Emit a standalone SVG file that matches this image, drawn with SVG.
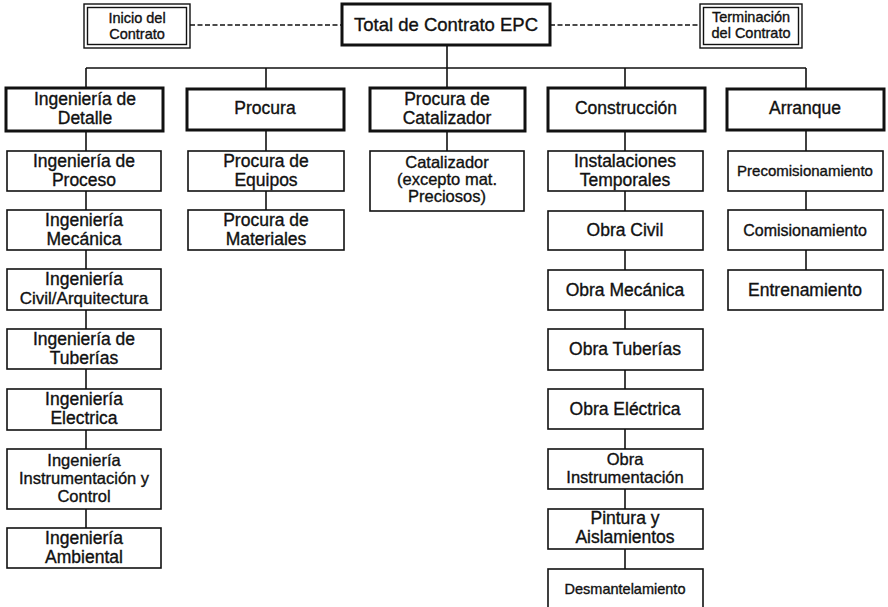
<svg xmlns="http://www.w3.org/2000/svg" width="888" height="607" viewBox="0 0 888 607">
<style>
.b1{fill:#fff;stroke:#111;stroke-width:3}
.b2{fill:#fff;stroke:#111;stroke-width:1.6}
.bd{fill:none;stroke:#111;stroke-width:1.4}
.c{fill:none;stroke:#111;stroke-width:1.6}
.d{fill:none;stroke:#111;stroke-width:1.4;stroke-dasharray:5 2.5}
text{font-family:"Liberation Sans",Arial,sans-serif;font-size:17.5px;fill:#111;stroke:#111;stroke-width:0.35;text-anchor:middle}
.s{font-size:14.5px}
.m{font-size:16.5px}
</style>
<rect width="888" height="607" fill="#fff"/>
<g id="connectors">
<path class="d" d="M190,25 H342 M550,25 H700"/>
<path class="c" d="M447,45 V68 M86,68 H806 M86,68 V88 M266,68 V89 M447,68 V88 M625,68 V88 M806,68 V89"/>
<path class="c" d="M86,131 V528"/>
<path class="c" d="M266,130 V210"/>
<path class="c" d="M447,131 V151"/>
<path class="c" d="M625,131 V569"/>
<path class="c" d="M806,130 V270"/>
</g>
<g id="inicio">
<rect class="bd" x="84" y="4" width="106" height="44"/>
<rect class="bd" x="87.5" y="7.5" width="99" height="37"/>
<text class="s" x="137" y="23">Inicio del</text>
<text class="s" x="137" y="39">Contrato</text>
</g>
<g id="total">
<rect class="b1" x="342" y="4" width="208" height="41"/>
<text x="446" y="31" style="font-size:18.5px">Total de Contrato EPC</text>
</g>
<g id="terminacion">
<rect class="bd" x="700" y="4" width="102" height="44"/>
<rect class="bd" x="703.5" y="7.5" width="95" height="37"/>
<text class="s" x="751" y="22">Terminación</text>
<text class="s" x="751" y="38">del Contrato</text>
</g>
<g id="ing-detalle">
<rect class="b1" x="6" y="88" width="157" height="43"/>
<text x="85" y="105">Ingeniería de</text>
<text x="85" y="124">Detalle</text>
</g>
<g id="procura">
<rect class="b1" x="187" y="89" width="157" height="41"/>
<text x="265" y="114">Procura</text>
</g>
<g id="procura-catalizador">
<rect class="b1" x="370" y="88" width="155" height="43"/>
<text x="447" y="105">Procura de</text>
<text x="447" y="124">Catalizador</text>
</g>
<g id="construccion">
<rect class="b1" x="548" y="88" width="157" height="43"/>
<text x="626" y="114">Construcción</text>
</g>
<g id="arranque">
<rect class="b1" x="727" y="89" width="157" height="41"/>
<text x="805" y="114">Arranque</text>
</g>
<g id="ing-proceso">
<rect class="b2" x="7" y="151" width="154" height="40"/>
<text x="84" y="167">Ingeniería de</text>
<text x="84" y="186">Proceso</text>
</g>
<g id="ing-mecanica">
<rect class="b2" x="7" y="210" width="154" height="40"/>
<text x="84" y="226">Ingeniería</text>
<text x="84" y="245">Mecánica</text>
</g>
<g id="ing-civil">
<rect class="b2" x="7" y="269" width="154" height="41"/>
<text x="84" y="285">Ingeniería</text>
<text x="84" y="304" style="font-size:17px">Civil/Arquitectura</text>
</g>
<g id="ing-tuberias">
<rect class="b2" x="7" y="329" width="154" height="40"/>
<text x="84" y="345">Ingeniería de</text>
<text x="84" y="364">Tuberías</text>
</g>
<g id="ing-electrica">
<rect class="b2" x="7" y="389" width="154" height="41"/>
<text x="84" y="405">Ingeniería</text>
<text x="84" y="424">Electrica</text>
</g>
<g id="ing-instrumentacion">
<rect class="b2" x="7" y="449" width="154" height="60"/>
<text class="m" x="84" y="466">Ingeniería</text>
<text class="m" x="84" y="484">Instrumentación y</text>
<text class="m" x="84" y="502">Control</text>
</g>
<g id="ing-ambiental">
<rect class="b2" x="7" y="528" width="154" height="40"/>
<text x="84" y="544">Ingeniería</text>
<text x="84" y="563">Ambiental</text>
</g>
<g id="procura-equipos">
<rect class="b2" x="188" y="151" width="156" height="40"/>
<text x="266" y="167">Procura de</text>
<text x="266" y="186">Equipos</text>
</g>
<g id="procura-materiales">
<rect class="b2" x="188" y="210" width="156" height="40"/>
<text x="266" y="226">Procura de</text>
<text x="266" y="245">Materiales</text>
</g>
<g id="catalizador">
<rect class="b2" x="370" y="151" width="154" height="60"/>
<text class="m" x="447" y="168">Catalizador</text>
<text class="m" x="447" y="185">(excepto mat.</text>
<text class="m" x="447" y="202">Preciosos)</text>
</g>
<g id="instalaciones">
<rect class="b2" x="548" y="151" width="155" height="40"/>
<text x="625" y="167">Instalaciones</text>
<text x="625" y="186">Temporales</text>
</g>
<g id="obra-civil">
<rect class="b2" x="548" y="211" width="155" height="39"/>
<text x="625" y="236">Obra Civil</text>
</g>
<g id="obra-mecanica">
<rect class="b2" x="548" y="270" width="155" height="40"/>
<text x="625" y="296">Obra Mecánica</text>
</g>
<g id="obra-tuberias">
<rect class="b2" x="548" y="329" width="155" height="41"/>
<text x="625" y="355">Obra Tuberías</text>
</g>
<g id="obra-electrica">
<rect class="b2" x="548" y="389" width="155" height="40"/>
<text x="625" y="415">Obra Eléctrica</text>
</g>
<g id="obra-instrumentacion">
<rect class="b2" x="548" y="449" width="155" height="40"/>
<text class="m" x="625" y="465">Obra</text>
<text class="m" x="625" y="483">Instrumentación</text>
</g>
<g id="pintura">
<rect class="b2" x="548" y="509" width="155" height="40"/>
<text x="625" y="524">Pintura y</text>
<text x="625" y="543">Aislamientos</text>
</g>
<g id="desmantelamiento">
<rect class="b2" x="548" y="569" width="155" height="50"/>
<text class="s" x="625" y="594">Desmantelamiento</text>
</g>
<g id="precomisionamiento">
<rect class="b2" x="728" y="151" width="155" height="40"/>
<text x="805" y="176" style="font-size:15px">Precomisionamiento</text>
</g>
<g id="comisionamiento">
<rect class="b2" x="728" y="210" width="155" height="40"/>
<text x="805" y="236" style="font-size:16px">Comisionamiento</text>
</g>
<g id="entrenamiento">
<rect class="b2" x="728" y="270" width="155" height="40"/>
<text x="805" y="296">Entrenamiento</text>
</g>
</svg>
